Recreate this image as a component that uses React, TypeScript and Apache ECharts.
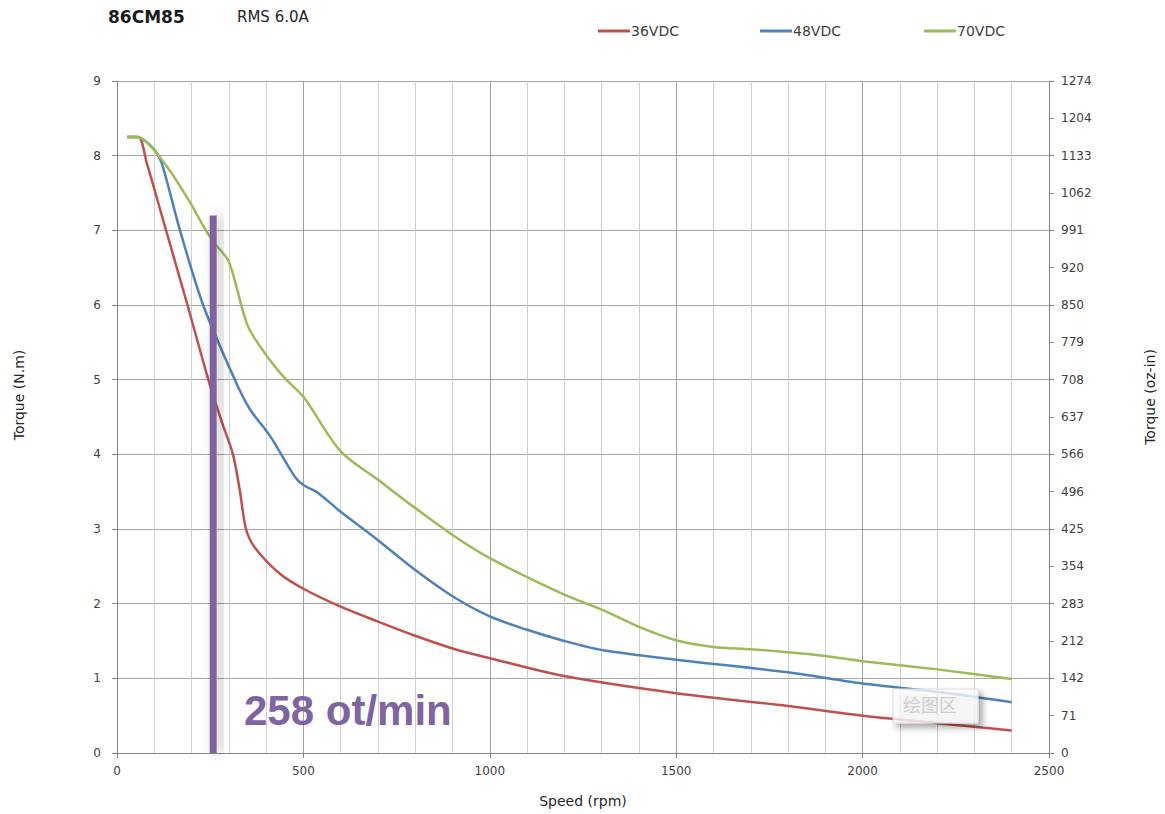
import React, { useEffect, useRef } from "react";
import * as echarts from "echarts";

const red36: [number, number][] = [
  [27, 8.25], [57, 8.25], [80, 7.9], [123, 7.15], [189, 6.0], [245, 5.0],
  [280, 4.45], [311, 4.0], [330, 3.5], [346, 3.0], [370, 2.75], [437, 2.4], [500, 2.2],
  [600, 1.96], [700, 1.76], [800, 1.57], [900, 1.4], [1000, 1.27], [1200, 1.03],
  [1500, 0.8], [1800, 0.63], [2000, 0.5], [2200, 0.4], [2400, 0.3],
];
const blue48: [number, number][] = [
  [27, 8.25], [54, 8.25], [80, 8.18], [102, 8.07], [120, 7.9], [169, 7.0], [231, 6.0],
  [316, 5.0], [357, 4.6], [410, 4.25], [477, 3.7], [500, 3.59], [540, 3.48], [600, 3.23],
  [700, 2.85], [800, 2.45], [900, 2.1], [1000, 1.83], [1100, 1.65], [1200, 1.5],
  [1300, 1.38], [1500, 1.25], [1800, 1.08], [2000, 0.93], [2200, 0.82], [2400, 0.68],
];
const green70: [number, number][] = [
  [27, 8.25], [54, 8.25], [80, 8.18], [115, 7.98], [150, 7.74], [200, 7.34], [230, 7.07],
  [258, 6.85], [300, 6.58], [350, 5.73], [400, 5.33], [450, 5.02], [500, 4.77],
  [600, 4.04], [700, 3.66], [800, 3.28], [900, 2.92], [1000, 2.61], [1200, 2.12],
  [1300, 1.92], [1400, 1.69], [1500, 1.51], [1600, 1.42], [1700, 1.39], [1800, 1.35],
  [1900, 1.3], [2000, 1.23], [2200, 1.12], [2400, 0.99],
];
const markerBar: [number, number][] = [[258, 7.2]];
const seriesNames = ["36VDC", "48VDC", "70VDC"];
const seriesColors = ["#c0504d", "#4f81bd", "#9bbb59"];
const legendLefts = [593, 755, 919];
const ozInLabels = [
  "0", "71", "142", "212", "283", "354", "425", "496", "566", "637",
  "708", "779", "850", "920", "991", "1062", "1133", "1204", "1274",
];

const FONT = "'DejaVu Sans', sans-serif";

export default function App() {
  const ref = useRef<HTMLDivElement>(null);
  useEffect(() => {
    if (!ref.current) return;
    document.body.style.margin = "0";
    document.body.style.overflow = "hidden";
    const chart = echarts.init(ref.current, null, { renderer: "svg" });
    const axisText = { color: "#404040", fontSize: 12, fontFamily: FONT };
    const curves = [red36, blue48, green70].map((d, i) => ({
      name: seriesNames[i],
      type: "line",
      data: d,
      smooth: 0.3,
      showSymbol: false,
      yAxisIndex: 0,
      lineStyle: { color: seriesColors[i], width: 2.5 },
      itemStyle: { color: seriesColors[i] },
      z: 3,
    }));
    chart.setOption({
      animation: false,
      backgroundColor: "#ffffff",
      grid: { left: 117, right: 116, top: 81, bottom: 61 },
      legend: seriesNames.map((n, i) => ({
        data: [n],
        left: legendLefts[i],
        top: 19,
        icon: "rect",
        itemWidth: 32,
        itemHeight: 3,
        textStyle: { color: "#404040", fontSize: 14, fontFamily: FONT, padding: [0, 0, 0, -4] },
      })),
      xAxis: {
        type: "value",
        min: 0,
        max: 2500,
        interval: 500,
        axisLine: { lineStyle: { color: "#868686" } },
        axisTick: { show: true, length: 5, lineStyle: { color: "#868686" } },
        axisLabel: { ...axisText, margin: 12, formatter: (v: number) => String(v) },
        splitLine: { show: true, lineStyle: { color: "#a0a0a0", width: 1 } },
        minorTick: { show: false, splitNumber: 5 },
        minorSplitLine: { show: true, lineStyle: { color: "#d0d0d0", width: 1 } },
      },
      yAxis: [
        {
          type: "value",
          min: 0,
          max: 9,
          interval: 1,
          axisLine: { show: true, lineStyle: { color: "#868686" } },
          axisTick: { show: true, length: 5, lineStyle: { color: "#868686" } },
          axisLabel: { ...axisText, margin: 16 },
          splitLine: { show: true, lineStyle: { color: "#a6a6a6", width: 1 } },
        },
        {
          type: "value",
          position: "right",
          min: 0,
          max: 9,
          interval: 0.5,
          axisLine: { show: true, lineStyle: { color: "#868686" } },
          axisTick: { show: true, length: 5, lineStyle: { color: "#868686" } },
          axisLabel: {
            ...axisText,
            margin: 12,
            formatter: (v: number) => ozInLabels[Math.round(v * 2)] ?? "",
          },
          splitLine: { show: false },
        },
      ],
      series: [
        ...curves,
        {
          name: "marker",
          type: "custom",
          data: markerBar,
          silent: true,
          z: 4,
          renderItem: (_p: any, api: any) => {
            const top = api.coord([api.value(0), api.value(1)]);
            const bottom = api.coord([api.value(0), 0]);
            return {
              type: "rect",
              shape: { x: top[0] - 3.5, y: top[1], width: 7, height: bottom[1] - top[1] },
              style: {
                fill: "#8064a2",
                shadowBlur: 14,
                shadowColor: "rgba(0,0,0,0.28)",
                shadowOffsetX: 6,
                shadowOffsetY: 0,
              },
            };
          },
        },
      ],
      graphic: [
        {
          type: "text",
          left: 108,
          top: 8,
          style: { text: "86CM85", font: `bold 17px ${FONT}`, fill: "#1a1a1a" },
        },
        {
          type: "text",
          left: 237,
          top: 9,
          style: { text: "RMS 6.0A", font: `15px ${FONT}`, fill: "#262626" },
        },
        {
          type: "text",
          x: 583,
          y: 801,
          style: {
            text: "Speed (rpm)", font: `14px ${FONT}`, fill: "#262626",
            align: "center", verticalAlign: "middle",
          },
        },
        {
          type: "text",
          x: 19,
          y: 395,
          rotation: Math.PI / 2,
          style: {
            text: "Torque (N.m)", font: `14px ${FONT}`, fill: "#262626",
            align: "center", verticalAlign: "middle",
          },
        },
        {
          type: "text",
          x: 1150,
          y: 397,
          rotation: Math.PI / 2,
          style: {
            text: "Torque (oz-in)", font: `14px ${FONT}`, fill: "#262626",
            align: "center", verticalAlign: "middle",
          },
        },
        {
          type: "text",
          left: 244,
          top: 689,
          z: 10,
          style: {
            text: "258 ot/min",
            font: "bold 42px 'Liberation Sans', sans-serif",
            fill: "#8064a2",
            shadowBlur: 10,
            shadowColor: "rgba(0,0,0,0.4)",
            shadowOffsetX: 3,
            shadowOffsetY: 3,
          },
        },
        {
          type: "rect",
          shape: { x: 893, y: 689, width: 85, height: 34 },
          z: 10,
          style: {
            fill: "rgba(255,255,255,0.75)",
            stroke: "#dcdcdc",
            lineWidth: 1,
            shadowBlur: 6,
            shadowColor: "rgba(0,0,0,0.45)",
            shadowOffsetX: 4,
            shadowOffsetY: 4,
          },
        },
        {
          type: "text",
          left: 903,
          top: 695,
          z: 11,
          style: { text: "绘图区", font: "18px 'Noto Sans CJK SC', sans-serif", fill: "#cfcfcf" },
        },
      ],
    });
    return () => chart.dispose();
  }, []);
  return (
    <div
      ref={ref}
      style={{ position: "absolute", left: 0, top: 0, width: 1165, height: 814 }}
    />
  );
}
